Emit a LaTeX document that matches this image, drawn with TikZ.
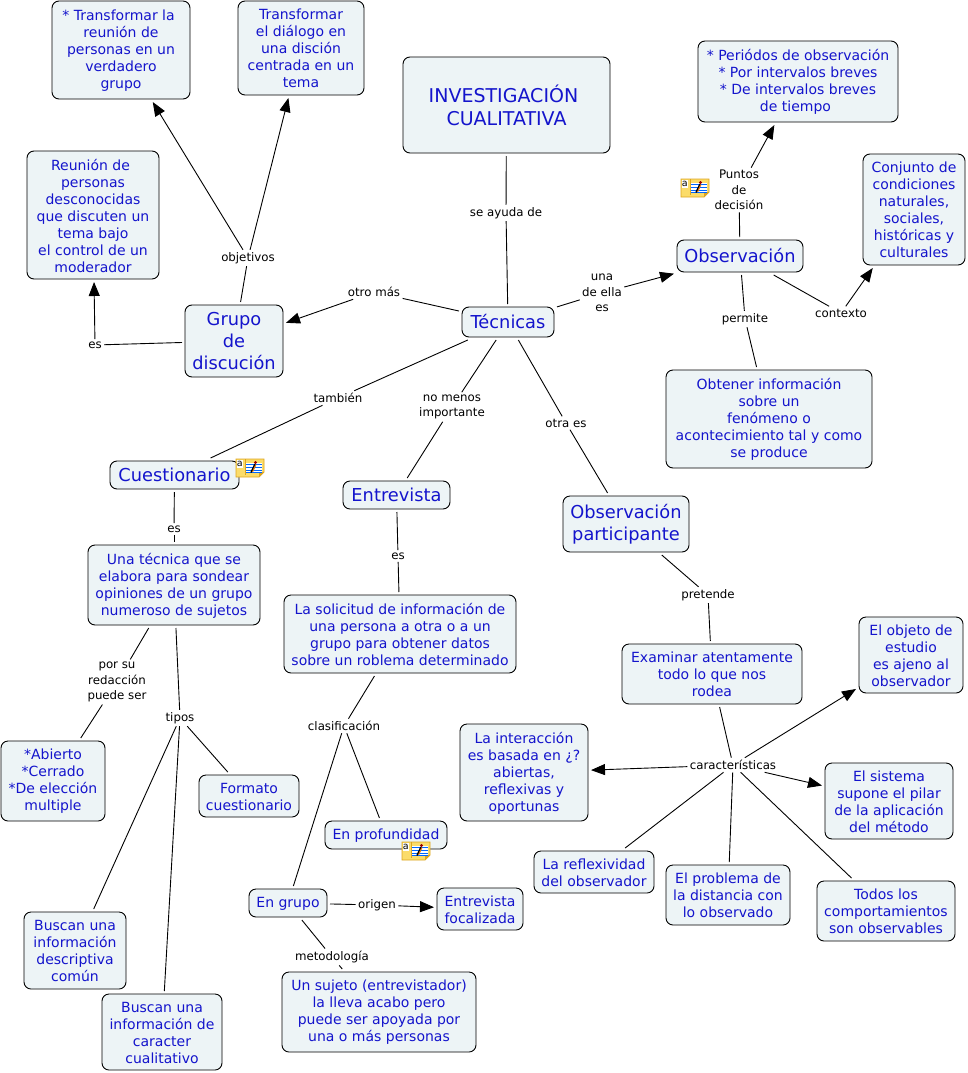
\documentclass[tikz,border=0pt]{standalone}
\usepackage{fontspec}
\setmainfont{DejaVu Sans}
\usetikzlibrary{arrows.meta}
\definecolor{cfill}{HTML}{EDF4F6}
\definecolor{ctext}{HTML}{1414CC}
\definecolor{notey}{HTML}{FBDC6A}
\definecolor{noted}{HTML}{DDA520}
\tikzset{
 concept/.style={draw=black,line width=0.9pt,fill=cfill,rounded corners=7pt,inner sep=0pt,outer sep=3pt},
 ctxt/.style={inner sep=0pt,outer sep=0pt,align=center,text=ctext,yshift=-0.5pt,font=\fontsize{14}{17}\selectfont},
 big/.style={yshift=0.5pt,font=\fontsize{17.8}{22}\selectfont},
 inv/.style={font=\fontsize{19}{23}\selectfont},
 link/.style={inner sep=2.5pt,outer sep=0pt,align=center,text=black,font=\fontsize{11.8}{15.5}\selectfont},
 conn/.style={draw=black,line width=0.9pt},
 arr/.style={conn,-{Triangle[length=14pt,width=11pt]}},
}
\newcommand\tr[1]{\hspace*{#1pt}}
\newcommand\cn[7][]{\node[concept,minimum width={(#5-#3)*1pt},minimum height={(#6-#4)*1pt}] (#2) at ({(#5+#3)/2},{(#6+#4)/2}) {};
 \node[ctxt,#1] (#2t) at (#2.center) {#7};}
\newcommand\lk[4]{\node[link] (#1) at (#2,#3) {#4};}
\newcommand\noteicon[3]{%
 \begin{scope}[shift={(#2,#3)}]
  \path[fill=notey,draw=noted,line width=0.8pt] (0,0) -- (28,0) -- (28,13) -- (23,18) -- (0,18) -- cycle;
  \path[fill=noted] (28,13) -- (23,13) -- (23,18) -- cycle;
  \draw[noted,line width=0.5pt] (9,0) -- (9,16);
  \fill[white] (0.8,0.8) rectangle (7,9);
  \fill[white] (10,4) rectangle (26,13);
  \foreach \yy in {5,8,11,13.5} \draw[blue!60!cyan,line width=0.7pt] (10,\yy) -- (26,\yy);
  \draw[black,line width=1.5pt] (15,13.5) -- (19,5);
  \draw[orange!90!black,line width=1pt] (16.5,13) -- (20,5.5);
  \fill[red!60!black] (19.5,3.5) circle (1.7pt);
  \node[inner sep=0pt,text=black,font=\fontsize{9.5}{9.5}\selectfont] (#1) at (3.8,4.6) {a};
 \end{scope}}
\begin{document}
\begin{tikzpicture}[x=1pt,y=-1pt]
\useasboundingbox (0,0) rectangle (967,1073);
\fill[white] (0,0) rectangle (967,1073);
% concepts
\cn{aone}{52}{1}{190}{99}{* Transformar la\tr5\\reunión de\\personas en un\\verdadero\\grupo}
\cn{atwo}{238}{1}{364}{95}{Transformar\\el diálogo en\\una disción\tr4\\centrada en un\\tema}
\cn[inv]{inv}{403}{57}{610}{153}{INVESTIGACIÓN\tr6\\CUALITATIVA}
\cn{per}{698}{41}{898}{122}{* Periódos de observación\\* Por intervalos breves\\* De intervalos breves\tr4\\de tiempo\tr5}
\cn{con}{863}{154}{965}{265}{Conjunto de\\condiciones\\naturales,\\sociales,\\históricas y\tr5\\culturales}
\cn[big]{obs}{677}{240}{803}{272}{Observación}
\cn{reu}{27}{151}{159}{279}{Reunión de\tr5\\personas\tr5\\desconocidas\tr5\\que discuten un\tr5\\tema bajo\tr5\\el control de un\tr5\\moderador}
\cn[big]{gru}{185}{305}{283}{377}{Grupo\\de\\discución}
\cn[big]{tec}{462}{307}{554}{337}{Técnicas}
\cn{obt}{666}{370}{872}{468}{Obtener información\\sobre un\tr8\\fenómeno o\tr5\\acontecimiento tal y como\\se produce}
\cn[big]{cue}{110}{461}{239}{489}{Cuestionario}
\cn[big]{ent}{343}{481}{450}{509}{Entrevista}
\cn[big]{opa}{563}{496}{689}{552}{Observación\\participante}
\cn{una}{88}{545}{260}{625}{Una técnica que se\\elabora para sondear\\opiniones de un grupo\\numeroso de sujetos}
\cn{sol}{284}{595}{516}{673}{La solicitud de información de\\una persona a otra o a un\\grupo para obtener datos\\sobre un roblema determinado}
\cn{exa}{622}{644}{802}{704}{Examinar atentamente\\todo lo que nos\\rodea}
\cn{obj}{859}{617}{963}{693}{El objeto de\\estudio\tr4\\es ajeno al\\observador}
\cn{int}{460}{724}{588}{821}{La interacción\\es basada en ¿?\\abiertas,\\reflexivas y\\oportunas}
\cn{sis}{825}{763}{953}{839}{El sistema\\supone el pilar\\de la aplicación\\del método}
\cn{abi}{1}{741}{105}{821}{*Abierto\\*Cerrado\\*De elección\\multiple}
\cn{for}{199}{775}{299}{817}{Formato\\cuestionario}
\cn{pro}{325}{821}{447}{849}{En profundidad}
\cn{ref}{534}{851}{654}{893}{La reflexividad\\del observador}
\cn{prb}{666}{865}{790}{925}{El problema de\\la distancia con\\lo observado}
\cn{tod}{817}{881}{955}{941}{Todos los\\comportamientos\\son observables}
\cn{egr}{249}{889}{327}{917}{En grupo}
\cn{efo}{437}{888}{523}{930}{Entrevista\\focalizada}
\cn{bua}{24}{912}{126}{989}{Buscan una\\información\\descriptiva\\común}
\cn{bub}{102}{994}{222}{1070}{Buscan una\\información de\\caracter\\cualitativo}
\cn{suj}{282}{972}{476}{1052}{Un sujeto (entrevistador)\\la lleva acabo pero\\puede ser apoyada por\\una o más personas}
% linking phrases
\lk{lsay}{506}{213}{se ayuda de}
\lk{lotr}{374}{292}{otro más}
\lk{luna}{602}{293}{una\\de ella\\es}
\lk{lpun}{739}{190}{Puntos\\de\\decisión}
\lk{lctx}{841}{313}{contexto}
\lk{lper}{745}{319}{permite}
\lk{lobj}{248}{258}{objetivos}
\lk{lesg}{95}{345}{es}
\lk{ltam}{338}{398}{también}
\lk{lnom}{452}{407}{no menos\\importante}
\lk{lotes}{566}{423}{otra es}
\lk{lesc}{174}{529}{es}
\lk{lese}{398}{556}{es}
\lk{lpre}{708}{595}{pretende}
\lk{lpor}{117}{682}{por su\\redacción\\puede ser}
\lk{ltip}{180}{718}{tipos}
\lk{lcla}{344}{726}{clasificación}
\lk{lcar}{733}{765}{características}
\lk{lori}{377}{905}{origen}
\lk{lmet}{332}{957}{metodología}
% connectors
\draw[conn] (inv) -- (lsay);
\draw[conn] (lsay) -- (tec);
\draw[conn] (tec) -- (lotr);
\draw[arr] (lotr) -- (gru);
\draw[conn] (tec) -- (luna);
\draw[arr] (luna) -- (obs);
\draw[conn] (obs) -- (lpun);
\draw[arr] (lpun) -- (per);
\draw[conn] (obs) -- (lctx);
\draw[arr] (lctx) -- (con);
\draw[conn] (obs) -- (lper);
\draw[conn] (lper) -- (obt);
\draw[conn] (gru) -- (lobj);
\draw[arr] (lobj) -- (aone);
\draw[arr] (lobj) -- (atwo);
\draw[conn] (gru) -- (lesg);
\draw[arr] (lesg) -- (reu);
\draw[conn] (tec) -- (ltam);
\draw[conn] (ltam) -- (cue);
\draw[conn] (tec) -- (lnom);
\draw[conn] (lnom) -- (ent);
\draw[conn] (tec) -- (lotes);
\draw[conn] (lotes) -- (opa);
\draw[conn] (cue) -- (lesc);
\draw[conn] (lesc) -- (una);
\draw[conn] (ent) -- (lese);
\draw[conn] (lese) -- (sol);
\draw[conn] (opa) -- (lpre);
\draw[conn] (lpre) -- (exa);
\draw[conn] (una) -- (lpor);
\draw[conn] (lpor) -- (abi);
\draw[conn] (una) -- (ltip);
\draw[conn] (ltip) -- (for);
\draw[conn] (ltip) -- (bua);
\draw[conn] (ltip) -- (bub);
\draw[conn] (sol) -- (lcla);
\draw[conn] (lcla) -- (pro);
\draw[conn] (lcla) -- (egr);
\draw[conn] (egr) -- (lori);
\draw[arr] (lori) -- (efo);
\draw[conn] (egr) -- (lmet);
\draw[conn] (lmet) -- (suj);
\draw[conn] (exa) -- (lcar);
\draw[arr] (lcar) -- (obj);
\draw[arr] (lcar) -- (int);
\draw[arr] (lcar) -- (sis);
\draw[conn] (lcar) -- (ref);
\draw[conn] (lcar) -- (prb);
\draw[conn] (lcar) -- (tod);
% annotation icons
\noteicon{nta}{681}{179}
\noteicon{ntb}{236}{459}
\noteicon{ntc}{402}{842}
\end{tikzpicture}
\end{document}
